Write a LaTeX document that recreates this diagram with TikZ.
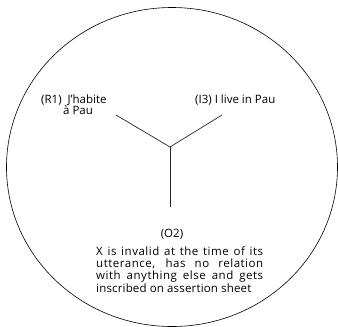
\documentclass[tikz,border=0pt]{standalone}
\usepackage{fontspec}
\setmainfont{Open Sans}
\begin{document}
\begin{tikzpicture}[x=1pt,y=-1pt,
  lbl/.style={inner sep=0pt, font=\fontsize{11.5}{12}\selectfont},
  para/.style={inner sep=0pt, font=\fontsize{11.5}{12}\selectfont\addfontfeature{LetterSpace=4.5}},
  arm/.style={draw=black!85, line width=0.7pt}]
\useasboundingbox (0,0) rectangle (338,327);
\draw[line width=0.6pt] (172,167) ellipse [x radius=165.5, y radius=159.5];
\coordinate (c) at (170,147);
\coordinate (l) at (116,115);
\coordinate (r) at (222,115);
\coordinate (d) at (170,207);
\draw[arm] (c) -- (l);
\draw[arm] (c) -- (r);
\draw[arm] (c) -- (d);
\node[lbl, anchor=base west] (r1) at (41,103) {(R1)\ \ J'habite};
\node[lbl, anchor=base west] (r1b) at (63,114) {à Pau};
\node[lbl, anchor=base west] (i3) at (195,103) {(I3) I live in Pau};
\node[lbl, anchor=base] (o2) at (172,237) {(O2)};
\node[para, anchor=base west] (t1) at (96,255) {\makebox[167pt][s]{X is invalid at the time of its}};
\node[para, anchor=base west] (t2) at (96,267) {\makebox[167pt][s]{utterance, has no relation}};
\node[para, anchor=base west] (t3) at (96,279.5) {\makebox[167pt][s]{with anything else and gets}};
\node[lbl, anchor=base west, font=\fontsize{11.5}{12}\selectfont\addfontfeature{LetterSpace=1.5}] (t4) at (96,292) {inscribed on assertion sheet};
\end{tikzpicture}
\end{document}
